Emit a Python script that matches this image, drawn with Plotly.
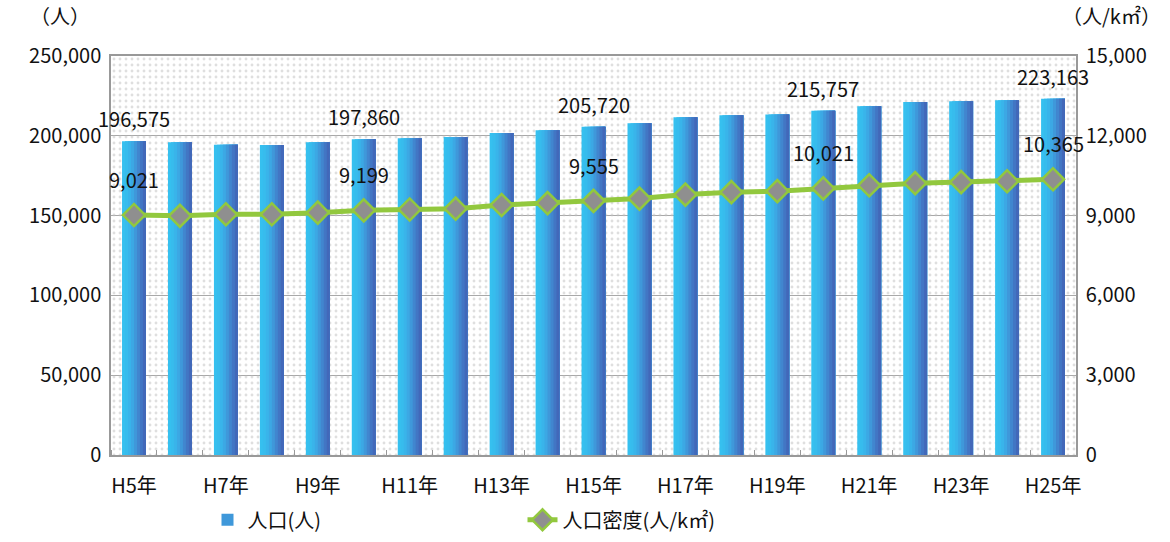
import plotly.graph_objects as go

# data
years = ["H5年", "H6年", "H7年", "H8年", "H9年", "H10年", "H11年", "H12年", "H13年", "H14年",
         "H15年", "H16年", "H17年", "H18年", "H19年", "H20年", "H21年", "H22年", "H23年", "H24年", "H25年"]
population = [196575, 195900, 194400, 194300, 195900, 197860, 198500, 199300, 201700, 203500,
              205720, 207900, 211600, 212800, 213400, 215757, 218500, 221100, 221700, 222300, 223163]
density = [9021, 8990, 9050, 9050, 9110, 9199, 9230, 9260, 9400, 9470,
           9555, 9640, 9790, 9880, 9920, 10021, 10140, 10220, 10260, 10290, 10365]
labelled = [0, 5, 10, 15, 20]

FONT = "Noto Sans CJK JP"
x = list(range(len(years)))
x_range = [-0.5, len(years) - 0.5]
y_range = [0, 250000]

fig = go.Figure()

# dotted plot-area background (a single patterned bar spanning the whole axis range)
fig.add_trace(go.Bar(
    x=[sum(x_range) / 2], y=[y_range[1]], width=[x_range[1] - x_range[0]],
    marker=dict(color="rgba(0,0,0,0)", line=dict(width=0),
                pattern=dict(shape=".", fgcolor="#bfbfbf", bgcolor="rgba(0,0,0,0)",
                             size=6, solidity=0.18)),
    hoverinfo="skip", showlegend=False))

# bars drawn as overlapping slices to fake the horizontal gradient
colors = ["#36c0ef", "#37bced", "#39b4ea", "#3ca8e4", "#3f98da", "#4186cf", "#4276c4", "#4268b9"]
n = len(colors)
bar_w = 0.52
for k, c in enumerate(colors):
    off = -bar_w / 2 + k * bar_w / n
    fig.add_trace(go.Bar(
        x=x, y=population, width=bar_w / 2 - off, offset=off,
        marker=dict(color=c, line=dict(width=0)),
        name="人口(人)", legendgroup="pop", showlegend=(k == 4),
        hoverinfo="skip" if k else None))

fig.add_trace(go.Scatter(
    x=x, y=density, yaxis="y2", mode="lines+markers", name="人口密度(人/k㎡)",
    line=dict(color="#92c83e", width=5),
    marker=dict(symbol="diamond", size=17, color="#8f8f8f", line=dict(color="#92c83e", width=2.5))))

for i in labelled:
    fig.add_annotation(x=i, y=population[i], text=f"{population[i]:,}", showarrow=False,
                       yanchor="bottom", yshift=6, font=dict(size=20, color="#111", family=FONT))
    fig.add_annotation(x=i, y=density[i], yref="y2", text=f"{density[i]:,}", showarrow=False,
                       yanchor="bottom", yshift=19, font=dict(size=20, color="#111", family=FONT))

fig.add_annotation(xref="paper", yref="paper", x=-0.086, y=1.06, text="（人）", showarrow=False,
                   xanchor="left", yanchor="bottom", font=dict(size=20, color="#111", family=FONT))
fig.add_annotation(xref="paper", yref="paper", x=1.09, y=1.06, text="（人/k㎡）", showarrow=False,
                   xanchor="right", yanchor="bottom", font=dict(size=20, color="#111", family=FONT))

fig.update_layout(
    width=1170, height=542,
    margin=dict(l=111, r=94, t=56, b=87, autoexpand=False),
    paper_bgcolor="white", plot_bgcolor="white",
    barmode="overlay",
    font=dict(family=FONT, size=20, color="#111"),
    xaxis=dict(range=x_range, tickvals=x[::2], ticktext=years[::2], ticks="",
               showline=True, linecolor="#999", linewidth=1.5, mirror=True,
               showgrid=False, zeroline=False, ticklabelstandoff=12,
               minor=dict(ticks="inside", tick0=0.5, dtick=1, ticklen=5, tickcolor="#999", showgrid=False)),
    yaxis=dict(range=y_range, dtick=50000, tickformat=",", showgrid=True, gridcolor="#a8a8a8",
               gridwidth=1, showline=True, linecolor="#999", linewidth=1.5, zeroline=False,
               ticks="", ticklabelstandoff=4),
    yaxis2=dict(range=[0, 15000], dtick=3000, tickformat=",", overlaying="y", side="right",
                showgrid=False, showline=True, linecolor="#999", linewidth=1.5, zeroline=False,
                ticks="", ticklabelstandoff=4),
    legend=dict(orientation="h", x=0.1, xanchor="left", yref="container", y=0.005, yanchor="bottom",
                entrywidth=270, entrywidthmode="pixels", font=dict(size=20)),
)

fig.write_html("out.html", config={"displayModeBar": False},
               post_script="document.body.style.margin='0';")
